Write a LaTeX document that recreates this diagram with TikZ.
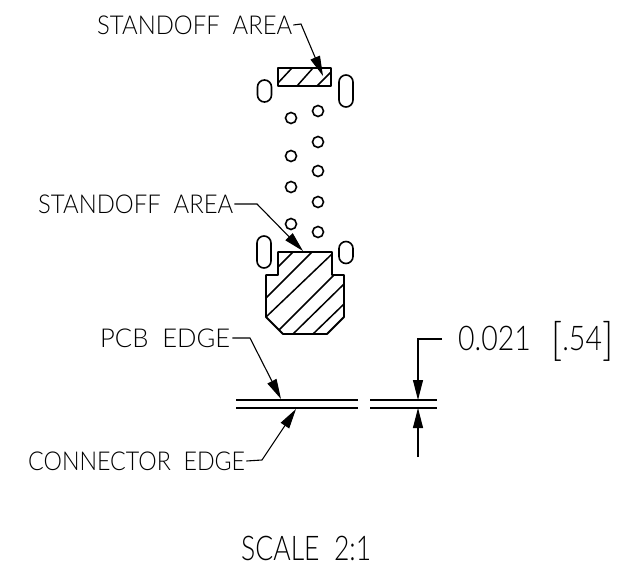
\documentclass[tikz,border=0pt]{standalone}
\usepackage{fontspec}
\setmainfont{Lato}[UprightFont=* Light]
\usetikzlibrary{arrows.meta}
\newcommand{\fitw}[2]{\resizebox{#1pt}{\height}{#2}}
\tikzset{
 x=1pt,y=-1pt,
 lbl/.style={inner sep=0pt,anchor=base west,font=\fontsize{26}{26}\selectfont,text=black},
 biglbl/.style={lbl,font=\fontsize{34}{34}\selectfont},
 part/.style={draw=black,line width=1.8pt,line join=round},
 hatch/.style={draw=black,line width=1.5pt},
 pad/.style={draw=black,line width=1.6pt,rounded corners=7pt},
 hole/.style={draw=black,line width=1.6pt,circle,minimum size=11pt,inner sep=0pt},
 leader/.style={draw=black,line width=1.1pt,-{Triangle[length=20pt,width=10pt]}},
 edgeline/.style={draw=black,line width=1.9pt},
 dimline/.style={draw=black,line width=1.2pt},
}
\begin{document}
\begin{tikzpicture}
\useasboundingbox (0,0) rectangle (619,570);
% labels
\node[lbl] (t1) at (97,34) {\fitw{195}{STANDOFF\ \ AREA}};
\node[lbl] (t2) at (38,213) {\fitw{195}{STANDOFF\ \ AREA}};
\node[lbl] (t3) at (100,347) {\fitw{130}{PCB\ \ EDGE}};
\node[lbl] (t4) at (28,470) {\fitw{217}{CONNECTOR\ \ EDGE}};
\node[biglbl] (t5) at (458,350) {\fitw{155}{0.021\ \ \,\raisebox{-5pt}{\fontsize{45}{45}\selectfont[}.54\raisebox{-5pt}{\fontsize{45}{45}\selectfont]}}};
\node[biglbl] (t6) at (241,560) {\fitw{130}{SCALE\ \ 2:1}};
% upper part
\path[part] (278,68) rectangle (331,86);
\draw[hatch] (278,83)--(292,68) (297,86)--(313,68) (317,86)--(331,72);
\node[pad,minimum width=14pt,minimum height=22pt,inner sep=0pt] (p1) at (264.5,91) {};
\node[pad,minimum width=14pt,minimum height=32pt,inner sep=0pt] (p2) at (346,91) {};
% holes
\foreach \n/\a/\b in {a/291/118,b/318/111,c/318/142,d/291/156,e/318/171,f/291/187,g/318/202,h/291/224,i/318/232}
  \node[hole] (\n) at (\a,\b) {};
% lower part
\path[part] (278,252)--(332,252)--(332,275)--(344,275)--(344,317)--(327,334)--(283,334)--(266,317)--(266,275)--(278,275)--cycle;
\draw[hatch] (278,267)--(293,252) (266,298)--(312,252) (266,317)--(332,254)
 (279,330)--(334,275) (293,334)--(344,284) (313,334)--(344,304);
\node[pad,minimum width=14pt,minimum height=32pt,inner sep=0pt] (p3) at (264,252) {};
\node[pad,minimum width=14pt,minimum height=22pt,inner sep=0pt] (p4) at (346,252.5) {};
% edges
\coordinate (e1a) at (236,400); \coordinate (e1b) at (358,400);
\coordinate (e2a) at (236,408); \coordinate (e2b) at (358,408);
\coordinate (e3a) at (370,400); \coordinate (e3b) at (437,400);
\coordinate (e4a) at (370,408); \coordinate (e4b) at (437,408);
\draw[edgeline] (e1a)--(e1b) (e2a)--(e2b);
\draw[dimline] (e3a)--(e3b) (e4a)--(e4b);
% leaders
\coordinate (k1) at (323,76);
\coordinate (k2) at (303,251);
\coordinate (k3) at (281,399);
\coordinate (k4) at (296,409);
\coordinate (k5) at (418,400);
\coordinate (k6) at (418,408);
\coordinate (s6) at (418,457);
\draw[leader] (t1.base east)++(1,-9) -- (301,24) -- (k1);
\draw[leader] (t2.base east)++(1,-9) -- (257,204) -- (k2);
\draw[leader] (t3.base east)++(2,-9) -- (250,338) -- (k3);
\draw[leader] (t4.base east)++(1,-9) -- (262,460) -- (k4);
\draw[leader] (t5.base west)++(-16,-11) -- (418,339) -- (k5);
\draw[leader] (s6) -- (k6);
\end{tikzpicture}
\end{document}
